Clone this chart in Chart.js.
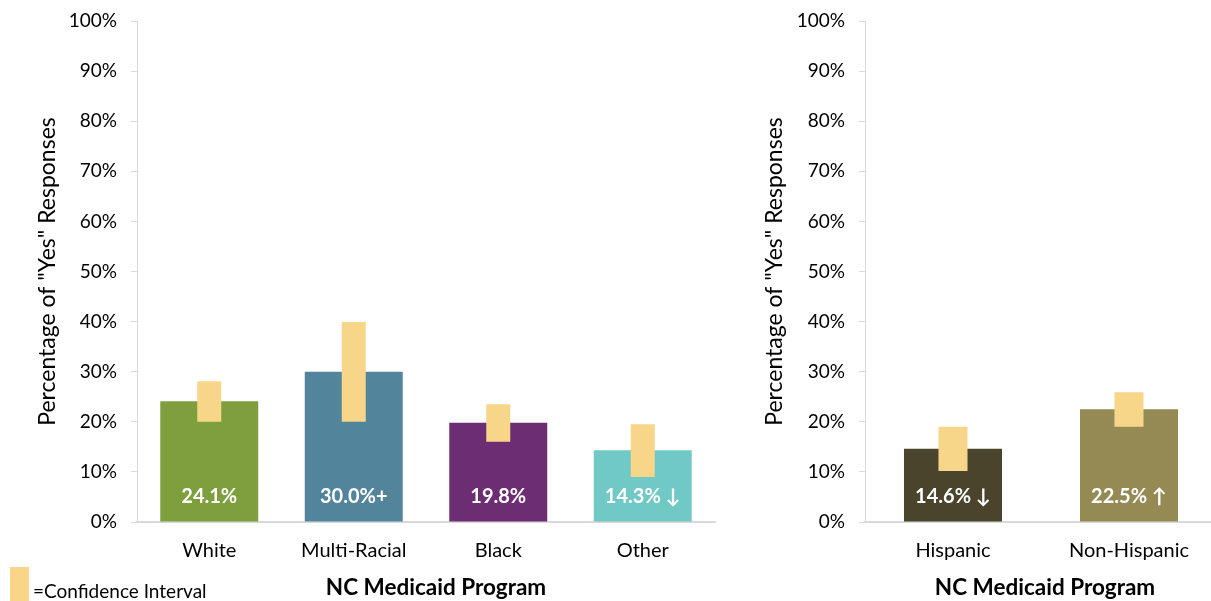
<!DOCTYPE html>
<html>
<head>
<meta charset="utf-8">
<script src="https://cdn.jsdelivr.net/npm/chart.js@4.4.1/dist/chart.umd.min.js"></script>
<style>
  html,body{margin:0;padding:0;background:#fff;}
  body{width:1211px;height:601px;position:relative;overflow:hidden;font-family:Lato, "Open Sans", sans-serif;}
  #c1{position:absolute;left:0;top:0;}
  #c2{position:absolute;left:740px;top:0;}
  #legend{position:absolute;left:10px;top:567px;height:34px;}
  #legend .sw{position:absolute;left:0;top:0;width:19px;height:34px;background:#F7D689;}
  #legend .tx{position:absolute;left:23px;top:14px;font-size:19px;line-height:20px;color:#000;white-space:nowrap;}
</style>
</head>
<body>
<canvas id="c1" width="716" height="601"></canvas>
<canvas id="c2" width="477" height="601"></canvas>
<div id="legend"><div class="sw"></div><div class="tx">=Confidence Interval</div></div>
<script>
// ---- Data ----
const raceCategories = ["White", "Multi-Racial", "Black", "Other"];
const raceValues = [24.1, 30.0, 19.8, 14.3];
const raceLabels = ["24.1%", "30.0%+", "19.8%", "14.3% \u2193"];
const raceCILow = [20.0, 20.0, 16.0, 9.0];
const raceCIHigh = [28.1, 39.9, 23.5, 19.5];
const raceColors = ["#7F9F3E", "#52849C", "#6C2D72", "#70C9C5"];

const ethCategories = ["Hispanic", "Non-Hispanic"];
const ethValues = [14.6, 22.5];
const ethLabels = ["14.6% \u2193", "22.5% \u2191"];
const ethCILow = [10.2, 19.0];
const ethCIHigh = [19.0, 25.9];
const ethColors = ["#4A442C", "#958A53"];

const yTicks = [0, 10, 20, 30, 40, 50, 60, 70, 80, 90, 100];
const yTitle = 'Percentage of "Yes" Responses';
const xTitle = "NC Medicaid Program";
const ciColor = "#F7D689";
const FONT = "Lato, 'Open Sans', sans-serif";

const valueLabelPlugin = {
  id: 'valueLabels',
  afterDatasetsDraw(chart, args, opts) {
    const ctx = chart.ctx;
    const meta = chart.getDatasetMeta(1);
    const yScale = chart.scales.y;
    ctx.save();
    ctx.fillStyle = '#fff';
    ctx.font = "bold 20px " + FONT;
    ctx.textAlign = 'center';
    ctx.textBaseline = 'middle';
    meta.data.forEach((bar, i) => {
      ctx.fillText(opts.labels[i], bar.x, yScale.getPixelForValue(0) - 25);
    });
    ctx.restore();
  },
  afterDraw(chart, args, opts) {
    const ctx = chart.ctx;
    const a = chart.chartArea;
    ctx.save();
    ctx.fillStyle = '#000';
    ctx.font = "bold 22.5px " + FONT;
    ctx.textAlign = 'center';
    ctx.textBaseline = 'middle';
    ctx.fillText(opts.xTitle, (a.left + a.right) / 2 + opts.titleShift, 588);
    ctx.restore();
  }
};

function makeChart(id, cats, vals, labels, lo, hi, colors, barPct, ciPct, padLeft, yWidth, padRight, titleShift) {
  return new Chart(document.getElementById(id), {
    type: 'bar',
    data: {
      labels: cats,
      datasets: [
        {
          label: 'CI',
          data: cats.map((c, i) => [lo[i], hi[i]]),
          backgroundColor: ciColor,
          grouped: false,
          order: 0,
          barPercentage: ciPct,
          categoryPercentage: 1
        },
        {
          label: 'Value',
          data: vals,
          backgroundColor: colors,
          grouped: false,
          order: 1,
          barPercentage: barPct,
          categoryPercentage: 1
        }
      ]
    },
    options: {
      responsive: false,
      animation: false,
      events: [],
      layout: { padding: { top: 21, left: padLeft, right: padRight, bottom: 0 } },
      plugins: {
        legend: { display: false },
        tooltip: { enabled: false },
        valueLabels: { labels: labels, xTitle: xTitle, titleShift: titleShift }
      },
      scales: {
        y: {
          min: 0, max: 100,
          afterFit: s => { s.width = yWidth; s.paddingTop = 0; s.paddingBottom = 0; },
          afterBuildTicks: s => { s.ticks = yTicks.map(v => ({ value: v })); },
          ticks: {
            callback: v => v + '%',
            color: '#000',
            font: { family: FONT, size: 19 },
            padding: 14
          },
          grid: { drawOnChartArea: false, tickLength: 6, color: '#D9D9D9' },
          border: { display: true, color: '#D9D9D9', width: 1 },
          title: {
            display: true,
            text: yTitle,
            color: '#000',
            font: { family: FONT, size: 23 },
            padding: 0
          }
        },
        x: {
          afterFit: s => { s.height = 79; },
          ticks: {
            color: '#000',
            font: { family: FONT, size: 20 },
            padding: 9
          },
          grid: { display: false },
          border: { display: true, color: '#D9D9D9', width: 2 },
          title: { display: false }
        }
      }
    },
    plugins: [valueLabelPlugin]
  });
}

makeChart('c1', raceCategories, raceValues, raceLabels, raceCILow, raceCIHigh, raceColors, 0.678, 0.166, 34, 103, 1, 10);
makeChart('c2', ethCategories, ethValues, ethLabels, ethCILow, ethCIHigh, ethColors, 0.557, 0.165, 21, 104, 0, 4);
</script>
</body>
</html>
